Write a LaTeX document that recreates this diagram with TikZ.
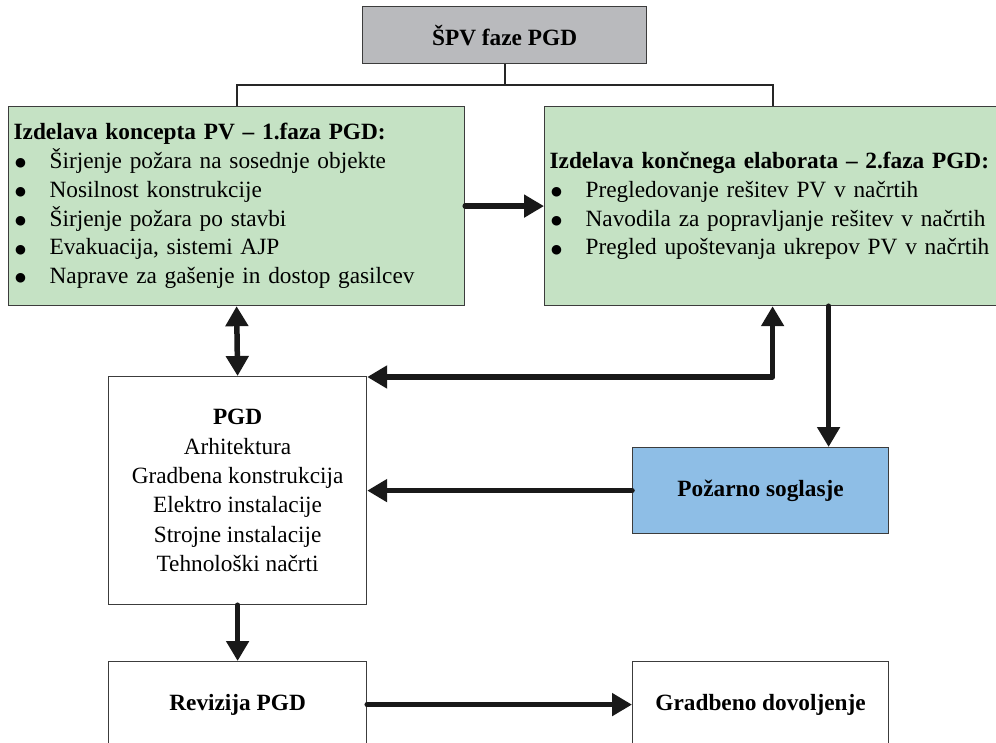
\documentclass[tikz,border=0pt]{standalone}
\usepackage{fontspec}
\setmainfont{Liberation Serif}
\newfontfamily\dotfont{DejaVu Sans}
\usetikzlibrary{arrows.meta,calc}
\definecolor{topgray}{RGB}{185,186,189}
\definecolor{phasegreen}{RGB}{197,226,196}
\definecolor{permitblue}{RGB}{142,190,230}
\definecolor{boxline}{RGB}{60,60,60}
\newcommand\bul{\makebox[36pt][l]{\hspace{1.5pt}\raisebox{1.8pt}{\dotfont\fontsize{12.5}{12.5}\selectfont ●}}}
\begin{document}
\begin{tikzpicture}[x=1pt,y=-1pt,
  >={Triangle[length=20pt,width=22pt]},
  box/.style={draw=boxline, line width=1.2pt, inner sep=0pt, anchor=north west,
    font=\fontsize{23.3}{28.8}\selectfont},
  phasebox/.style={box, fill=phasegreen, minimum height=199pt, text width=446pt,
    inner xsep=5pt, align=left},
  link/.style={draw=black!85, line width=2pt},
  flow/.style={draw=black!90, line width=5.5pt, line cap=round, line join=round}]
\useasboundingbox (0,0) rectangle (996,743);
\clip (0,0) rectangle (996,743);

% boxes
\node[box, fill=topgray, minimum width=284pt, minimum height=57pt] (spv) at (362,6)
  {\bfseries ŠPV faze PGD};
\node[phasebox] (phase1) at (8,106)
  {\mbox{\bfseries Izdelava koncepta PV – 1.faza PGD:}\\
   \mbox{\bul Širjenje požara na sosednje objekte}\\
   \mbox{\bul Nosilnost konstrukcije}\\
   \mbox{\bul Širjenje požara po stavbi}\\
   \mbox{\bul Evakuacija, sistemi AJP}\\
   \mbox{\bul Naprave za gašenje in dostop gasilcev}};
\node[phasebox] (phase2) at (544,106)
  {\mbox{\bfseries Izdelava končnega elaborata – 2.faza PGD:}\\
   \mbox{\bul Pregledovanje rešitev PV v načrtih}\\
   \mbox{\bul Navodila za popravljanje rešitev v načrtih}\\
   \mbox{\bul Pregled upoštevanja ukrepov PV v načrtih}};
\node[box, fill=white, minimum width=258pt, minimum height=228pt, align=center,
  font=\fontsize{23.3}{29.4}\selectfont] (pgd) at (108,376)
  {\textbf{PGD}\\ Arhitektura\\ Gradbena konstrukcija\\ Elektro instalacije\\
   Strojne instalacije\\ Tehnološki načrti};
\node[box, fill=permitblue, minimum width=256pt, minimum height=86pt] (pozar) at (632,447)
  {\bfseries Požarno soglasje};
\node[box, fill=white, minimum width=258pt, minimum height=86pt] (rev) at (108,661)
  {\bfseries Revizija PGD};
\node[box, fill=white, minimum width=256pt, minimum height=86pt] (dov) at (632,661)
  {\bfseries Gradbeno dovoljenje};

% thin branching connector from the top box
\coordinate (split) at ($(spv.south)+(0,21)$);
\draw[link] (spv.south) -- (split);
\draw[link] (phase1.north) |- (split) -| (phase2.north);

% thick flow arrows
\draw[flow,->] (phase1.east) -- (phase2.west);
\draw[flow,<->] (phase1.south) -- (pgd.north);
\coordinate (pgdret) at ($(pgd.north east)+(0,1)$);
\draw[flow,<->] (pgdret) -| (phase2.south);
\coordinate (drop) at ($(phase2.south)+(56,0)$);
\draw[flow,->] (drop) -- (drop |- pozar.north);
\draw[flow,->] (pozar.west) -- (pozar.west -| pgd.east);
\draw[flow,->] (pgd.south) -- (rev.north);
\draw[flow,->] (rev.east) -- (dov.west);
\end{tikzpicture}
\end{document}
